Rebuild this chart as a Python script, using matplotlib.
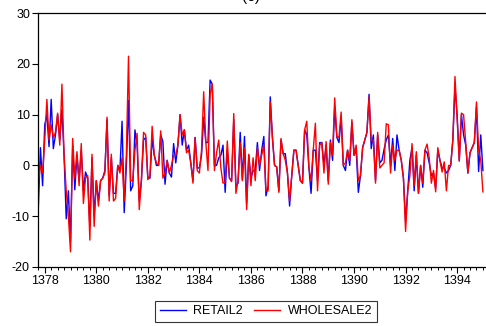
import numpy as np
import matplotlib

matplotlib.use("Agg")
import matplotlib.pyplot as plt
from matplotlib.ticker import MultipleLocator

plt.rcParams["font.family"] = ["Liberation Sans", "DejaVu Sans"]

# monthly series, first observation 1377M10
start_year = 1377
start_month = 10

retail2 = [
    -8.5, 3.5, -4,                                                  # 1377 M10-M12
    8, 10, 3.7, 13, 3.3, 6, 10, 5, 11, 2, -10.5, -5,                # 1378
    -15, 4, -4.8, 2, -3, 3, -5, -1.3, -2.5, -12, 1.5, -10,          # 1379
    -3, -7, -3, -2.5, -1, 9, -6, 1.5, -5.5, -5.5, 0, -1,            # 1380
    8.7, -9.3, 0, 12.8, -5, -4, 7, 4, -7, -3, 5, 5.5,               # 1381
    -2.5, -2.5, 5.3, 2, 0, 0, 6, 4.7, -3.7, 1, -1.5, -2.3,          # 1382
    4.3, 0.5, 4, 10, 4, 7, 3, 4, 0.5, -3, 5.5, -0.5,                # 1383
    -0.5, 2, 9.5, 4.5, 4.5, 16.8, 16, 0, 0, 1.5, 2, 4,              # 1384
    -5.3, 3, -2.5, -3, 9, -4, -3.5, 6.5, -2.7, 5.7, -7.5, 2,        # 1385
    -2.5, -1, -1, 4.5, -1, 3, 5.7, -6, -4, 13.5, 5.5, 0,            # 1386
    -0.3, -5, 5, 2.3, 2.3, -1.5, -8, -2, 3, 3, 0, -3,               # 1387
    -3.5, 7, 6, -0.5, -5.5, 3, 3, -3, 4.5, 4.5, 0, 4,               # 1388
    -3, 5, 1, 11.5, 5.5, 4.5, 9.5, 0, -1, 3, 0, 8.5,                # 1389
    2, 3, -5.3, -2, 3.5, 5, 6.5, 14, 3.3, 6, -3, 6,                 # 1390
    0.5, 1, 3.2, 5, 6, 0, 5.3, -1, 6, 3, 1, -2.5,                   # 1391
    -11, -5, 1, 3.5, -5, 2, -5.5, 0, -4.3, 3, 2.5, 0.5,             # 1392
    -2, -1.5, -4.5, 3, 1, -0.5, -0.5, -1.5, -1, 0, 5, 15.5,         # 1393
    10, 1, 10, 6, 4, -1.5, 2.5, 3.5, 4.5, 11.5, -1.2, 6,            # 1394
    -1,                                                             # 1395 M1
]

wholesale2 = [
    -3.5, 0, -1.5,
    5, 13, 5, 8, 5.5, 6.5, 10.3, 4, 16, 2, -5, -10,
    -17, 5.3, -2.5, 2.7, -4, 4.3, -7.5, -2.5, -2, -14.7, 2.2, -12,
    -3, -8, -3, -2.5, -1.5, 9.5, -7, 2.2, -7, -6.5, 0, -1.5,
    1.5, -7, 2, 21.5, -3, -3, 3, 6.3, -8.7, -3, 6.5, 6,
    -2.8, -2, 7.7, 2, 0.5, 0, 6.8, -2.5, -1.5, 1, -1.5, 0,
    2, 2, 4, 10, 6, 7, 2.5, 3, 0.5, -3.5, 5.5, -1,
    -1.5, 3, 14.5, 4.5, -1, 14, 16, -1, 2.5, 5, -0.5, -3.5,
    -3.2, 4.8, -2.5, -3.2, 10.2, -5.5, -3, 4.5, -3, 3.5, -8.7, 2.2,
    -4, 1.5, -3, 3.5, 0, 2, 4, -5, -5, 12.5, 5.5, 0,
    -0.3, -5.3, 5.3, 2.3, 1, -1.5, -7, -2, 3, 3, 0, -3,
    -3.5, 7, 8.7, -0.5, -3, 3, 8.3, -5, 4, 4.5, -1.5, 4.7,
    -3.7, 4.5, 2, 13.3, 5.7, 5.5, 10.5, 0, 0.5, 3, 1, 9,
    2, 4, -3, -2, 3.5, 5, 6.5, 13.5, 5, 5, -3.5, 6.5,
    -0.5, 0, 0.5, 8.2, 8, -1.5, 4, 1, 3, 3, 1, -2.5,
    -13, -5, -2, 4.3, -4, 2.7, -5.5, 0, -3.5, 3, 4.2, 1.5,
    -3.5, -1, -5.2, 3.5, 1, -1.3, 0.7, -5, 0, 0, 5, 17.5,
    9, 0.8, 10.3, 10, 4.5, -1.5, 2.5, 3.5, 4.5, 12.5, 3, 1,
    -5.2,
]

x_ticks = [1378, 1380, 1382, 1384, 1386, 1388, 1390, 1392, 1394]
y_ticks = [-20, -10, 0, 10, 20, 30]


def main():
    t0 = start_year + (start_month - 1) / 12
    t = t0 + np.arange(len(retail2)) / 12

    fig = plt.figure(figsize=(4.86, 3.26), dpi=100)
    ax = fig.add_axes([0.0788, 0.181, 0.9212, 0.779])

    ax.plot(t, retail2, color="#0000ff", lw=1.0, label="RETAIL2")
    ax.plot(t, wholesale2, color="#ff0000", lw=1.0, label="WHOLESALE2")

    ax.set_xlim(t0, 1395.12)
    ax.set_ylim(-20, 30)
    ax.set_xticks(x_ticks)
    ax.set_xticklabels([str(v) for v in x_ticks])
    ax.xaxis.set_minor_locator(MultipleLocator(0.25))
    ax.set_yticks(y_ticks)
    ax.set_yticklabels([str(v) for v in y_ticks])

    ax.tick_params(axis="both", which="major", direction="out", length=4,
                   width=0.8, labelsize=9, colors="black", pad=2)
    ax.tick_params(axis="x", which="minor", direction="out", length=2.5, width=0.7)
    ax.spines["right"].set_visible(False)
    for side in ["left", "bottom", "top"]:
        ax.spines[side].set_linewidth(0.9)

    # panel label, cut by the top edge as in the source figure
    fig.text(251 / 486, 1 - 4 / 326, "(c)", ha="center", va="bottom", fontsize=11)

    leg = fig.legend(loc="lower center", bbox_to_anchor=(266 / 486, -2 / 326),
                     ncol=2, fontsize=9, frameon=True, fancybox=False,
                     handlelength=2.1, columnspacing=0.9, borderpad=0.35,
                     handletextpad=0.6)
    leg.get_frame().set_edgecolor("black")
    leg.get_frame().set_linewidth(0.8)

    fig.savefig("out.png", dpi=100)
    plt.close(fig)


if __name__ == "__main__":
    main()
